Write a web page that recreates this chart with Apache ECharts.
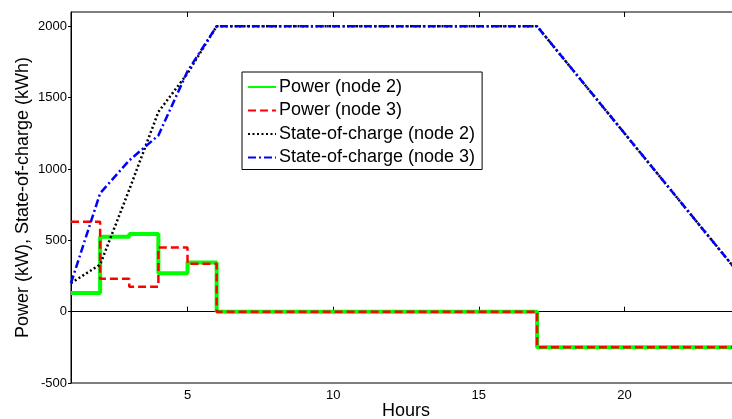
<!DOCTYPE html>
<html>
<head>
<meta charset="utf-8">
<script src="https://cdn.jsdelivr.net/npm/echarts@6/dist/echarts.min.js"></script>
<style>html,body{margin:0;padding:0;background:#fff}#c{width:732px;height:419px}</style>
</head>
<body>
<div id="c"></div>
<script>
const hours = [1,2,3,4,5,6,7,8,9,10,11,12,13,14,15,16,17,18,19,20,21,22,23,24];
const powerNode2 = [130,525,545,270,345,0,0,0,0,0,0,0,0,0,0,0,-250,-250,-250,-250,-250,-250,-250,-250];
const powerNode3 = [630,230,175,450,335,0,0,0,0,0,0,0,0,0,0,0,-250,-250,-250,-250,-250,-250,-250,-250];
const socNode2 = [200,330,855,1400,1670,2000,2000,2000,2000,2000,2000,2000,2000,2000,2000,2000,2000,1750,1500,1250,1000,750,500,250];
const socNode3 = [200,830,1060,1235,1685,2000,2000,2000,2000,2000,2000,2000,2000,2000,2000,2000,2000,1750,1500,1250,1000,750,500,250];
const xTicks = [5,10,15,20];
const yTicks = [-500,0,500,1000,1500,2000];
const seriesNames = ['Power (node 2)','Power (node 3)','State-of-charge (node 2)','State-of-charge (node 3)'];

const pairs = arr => hours.map((h,i)=>[h,arr[i]]);
const font = 'Arial, "Liberation Sans", sans-serif';
const chart = echarts.init(document.getElementById('c'));
chart.setOption({
  animation:false,
  backgroundColor:'#fff',
  grid:{left:71,top:12,right:-9,bottom:36,outerBoundsMode:'none',containLabel:false,show:true,borderColor:'#000',borderWidth:1,backgroundColor:'transparent'},
  legend:{
    orient:'vertical',left:242,top:72,
    borderColor:'#000',borderWidth:1,backgroundColor:'#fff',
    padding:[5,7,2,5],itemGap:3.5,itemWidth:28,itemHeight:14,
    itemStyle:{opacity:0},
    textStyle:{fontFamily:font,fontSize:18,color:'#000',lineHeight:20,padding:[0,0,0,-2]},
    data:seriesNames
  },
  xAxis:[{
    type:'value',min:1,max:24,
    name:'Hours',nameLocation:'middle',nameGap:19.5,nameMoveOverlap:false,
    nameTextStyle:{fontFamily:font,fontSize:18,color:'#000'},
    axisLine:{lineStyle:{color:'#000',width:1}},
    axisTick:{inside:true,length:5,customValues:xTicks,lineStyle:{color:'#000'}},
    axisLabel:{customValues:xTicks,fontFamily:font,fontSize:13,color:'#000',margin:6,formatter:v=>String(v)},
    splitLine:{show:false}
  },{
    type:'value',min:1,max:24,position:'top',
    axisLine:{show:false},
    axisTick:{inside:true,length:5,customValues:xTicks,lineStyle:{color:'#000'}},
    axisLabel:{show:false},
    splitLine:{show:false}
  }],
  yAxis:{
    type:'value',min:-500,max:2100,
    name:'Power (kW), State-of-charge (kWh)',nameLocation:'middle',nameGap:39,nameMoveOverlap:false,
    nameTextStyle:{fontFamily:font,fontSize:18,color:'#000'},
    axisLine:{lineStyle:{color:'#000',width:1}},
    axisTick:{inside:false,length:3,customValues:yTicks,lineStyle:{color:'#000'}},
    axisLabel:{customValues:yTicks,fontFamily:font,fontSize:13,color:'#000',margin:4,formatter:v=>String(v)},
    splitLine:{show:false}
  },
  series:[
    {name:seriesNames[0],type:'line',step:'end',symbol:'none',data:pairs(powerNode2),
     lineStyle:{color:'#00ff00',width:4},itemStyle:{color:'#00ff00'}},
    {name:seriesNames[1],type:'line',step:'end',symbol:'none',data:pairs(powerNode3),
     lineStyle:{color:'#ff0000',width:2.5,type:[8,4]},itemStyle:{color:'#ff0000'}},
    {name:seriesNames[2],type:'line',symbol:'none',data:pairs(socNode2),
     lineStyle:{color:'#000',width:2.5,type:[2,2.5]},itemStyle:{color:'#000'}},
    {name:seriesNames[3],type:'line',symbol:'none',data:pairs(socNode3),
     lineStyle:{color:'#0000ff',width:2.5,type:[8,3,2,3]},itemStyle:{color:'#0000ff'}}
  ]
});
</script>
</body>
</html>
